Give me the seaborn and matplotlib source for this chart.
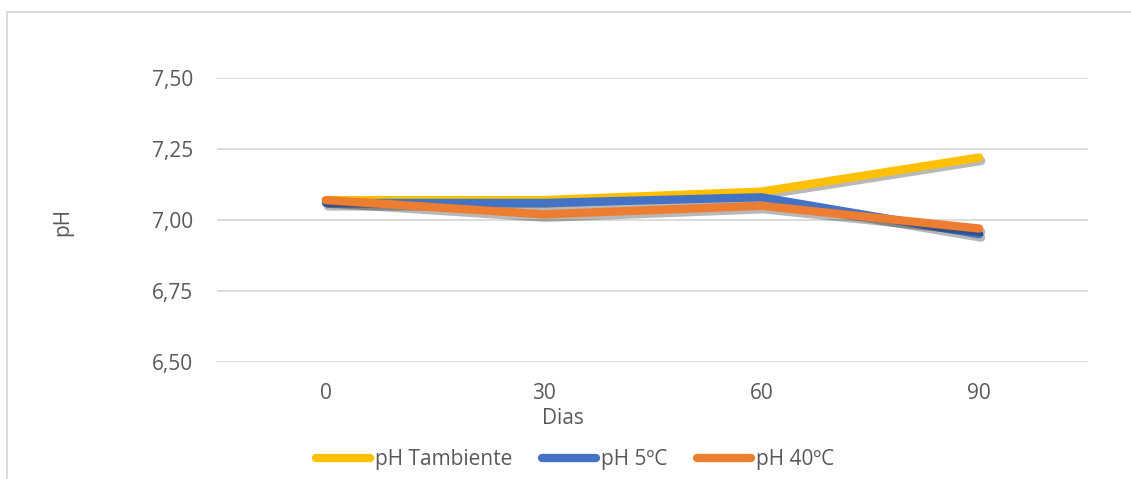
import matplotlib
matplotlib.use("Agg")
import matplotlib.pyplot as plt
import matplotlib.patheffects as pe
from matplotlib.patches import Rectangle
from matplotlib.ticker import FixedLocator, FuncFormatter
import seaborn as sns
import pandas as pd

# Storage time (days) and measured pH for each condition
dias = [0, 30, 60, 90]
ph_tambiente = [7.07, 7.07, 7.10, 7.22]
ph_5c = [7.06, 7.06, 7.08, 6.95]
ph_40c = [7.07, 7.02, 7.05, 6.97]

series_names = ["pH Tambiente", "pH 5ºC", "pH 40ºC"]
series_colors = ["#FFC000", "#4472C4", "#ED7D31"]
y_ticks = [6.50, 6.75, 7.00, 7.25, 7.50]

df = pd.DataFrame({
    "Dias": dias * 3,
    "pH": ph_tambiente + ph_5c + ph_40c,
    "Serie": [series_names[0]] * 4 + [series_names[1]] * 4 + [series_names[2]] * 4,
})

sns.set_theme(style="white")
plt.rcParams["font.family"] = ["Open Sans", "DejaVu Sans"]
text_color = "#595959"
grid_color = "#D9D9D9"

fig = plt.figure(figsize=(11.31, 4.79), dpi=100)
fig.patch.set_facecolor("white")

# chart frame (runs off the right and bottom edges)
fig.patches.append(Rectangle((7 / 1131, -0.05), 1.2, 1 - 12 / 479 + 0.05,
                             transform=fig.transFigure, fill=False,
                             edgecolor=grid_color, linewidth=1.3))

ax = fig.add_axes([217 / 1131, 1 - 362 / 479, 871 / 1131, 284 / 479])

shadow = [pe.SimpleLineShadow(offset=(1.5, -2.5), shadow_color="black", alpha=0.28),
          pe.Normal()]

sns.lineplot(data=df, x="Dias", y="pH", hue="Serie", hue_order=series_names,
             palette=series_colors, linewidth=6, ax=ax, legend=False,
             sort=False)
for line in ax.get_lines():
    line.set_solid_capstyle("round")
    line.set_solid_joinstyle("round")
    line.set_path_effects(shadow)

ax.set_xlim(-15, 105)
ax.set_ylim(6.5, 7.5)
ax.xaxis.set_major_locator(FixedLocator(dias))
ax.yaxis.set_major_locator(FixedLocator(y_ticks))
ax.yaxis.set_major_formatter(FuncFormatter(lambda v, _: f"{v:.2f}".replace(".", ",")))
ax.grid(axis="y", color=grid_color, linewidth=1.3)
ax.set_axisbelow(True)
for s in ax.spines.values():
    s.set_visible(False)
ax.tick_params(axis="both", length=0, labelsize=15, labelcolor=text_color)
ax.tick_params(axis="y", pad=17)
ax.tick_params(axis="x", pad=15)
ax.set_xlabel("")
ax.set_ylabel("")

fig.text(563 / 1131, 1 - 418 / 479, "Dias", ha="center", va="center",
         fontsize=15, color=text_color)
fig.text(63 / 1131, 1 - 222 / 479, "pH", ha="center", va="center",
         rotation=90, fontsize=15, color=text_color)

handles = [plt.Line2D([], [], color=c, linewidth=6, solid_capstyle="round")
           for c in series_colors]
leg = fig.legend(handles, series_names, loc="center", ncol=3,
                 bbox_to_anchor=(575 / 1131, 1 - 460 / 479), frameon=False,
                 fontsize=15, handlelength=2.6, handletextpad=0.25,
                 columnspacing=1.4)
for t in leg.get_texts():
    t.set_color(text_color)

fig.savefig("out.png", dpi=100, facecolor="white")
